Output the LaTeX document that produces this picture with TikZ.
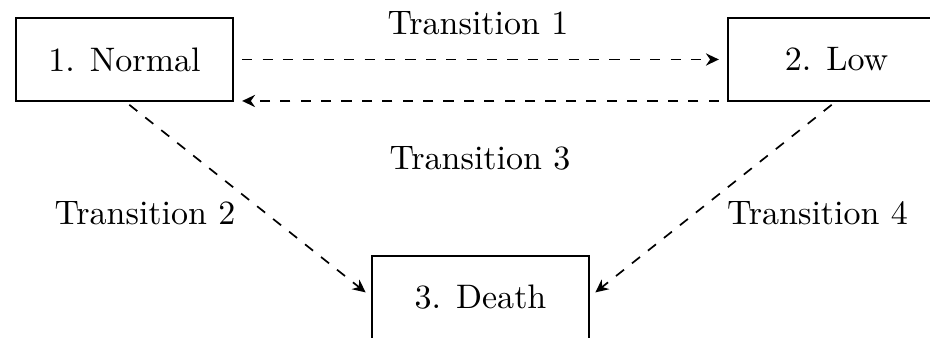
\documentclass[tikz,border=0pt]{standalone}
\usetikzlibrary{arrows.meta}
\begin{document}
\begin{tikzpicture}[x=0.2941pt, y=-0.2941pt,
  state/.style={draw, line width=0.5pt, rectangle, inner sep=0pt, outer sep=0pt,
    minimum width=63.8pt, minimum height=24.4pt},
  trans/.style={draw, dashed, line width=0.5pt, -{Stealth[length=3.8pt,width=3.6pt]},
    shorten <=2.7pt, shorten >=2.7pt},
  lbl/.style={anchor=base, inner sep=0pt}
]
\useasboundingbox (0,0) rectangle (930,338);

% states
\node[state] (normal) at (124.5,59.5) {1. Normal};
\node[state] (low) at (836.5,59.5) {2. Low};
\node[state] (death) at (480.5,297.5) {3. Death};

% transitions
\draw[trans] (normal.east) -- (low.west);
\draw[trans] (low.south west) -- (normal.south east);
\draw[trans, shorten <=1.8pt, shorten >=2.4pt] (normal.south) -- (death.west);
\draw[trans, shorten <=1.8pt, shorten >=2.4pt] (low.south) -- (death.east);

% transition labels
\node[lbl] (t1) at (478,35) {Transition 1};
\node[lbl] (t3) at (480,170) {Transition 3};
\node[lbl] (t2) at (145,225) {Transition 2};
\node[lbl] (t4) at (817.5,225) {Transition 4};
\end{tikzpicture}
\end{document}
